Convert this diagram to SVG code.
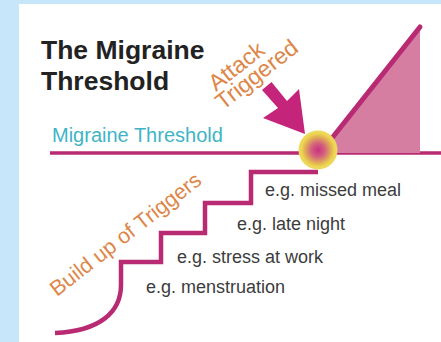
<svg xmlns="http://www.w3.org/2000/svg" width="441" height="342" viewBox="0 0 441 342">
<defs>
<radialGradient id="glow" cx="0.5" cy="0.5" r="0.5">
<stop offset="0" stop-color="#c8327f"/>
<stop offset="0.35" stop-color="#d4607f"/>
<stop offset="0.7" stop-color="#e3b552"/>
<stop offset="0.85" stop-color="#ecd650"/>
<stop offset="1" stop-color="#eedb62"/>
</radialGradient>
<style>
.title{font-family:"Liberation Sans",Arial,sans-serif;font-weight:bold;font-size:26.5px;fill:#222}
.thr{font-family:"Liberation Sans",Arial,sans-serif;font-size:20px;fill:#40b4c6}
.eg{font-family:"Liberation Sans",Arial,sans-serif;font-size:18px;fill:#3c3c3c}
.orange{font-family:"Liberation Sans",Arial,sans-serif;fill:#dd8648}
.mag{fill:none;stroke:#b82a72;stroke-linejoin:miter}
</style>
</defs>
<rect x="0" y="0" width="441" height="342" fill="#c8e6fa"/>
<rect x="19" y="4" width="422" height="338" fill="#ffffff"/>

<g id="title">
<text class="title" x="41" y="59">The Migraine</text>
<text class="title" x="41" y="90">Threshold</text>
</g>

<g id="connectors">
<line class="mag" x1="50" y1="153" x2="441" y2="153" stroke-width="3.5"/>
<path class="mag" stroke-width="4.5" d="M55,333 C100,331 121,312 121,285 L121,262 L161,262 L161,233 L205,233 L205,203 L251,203 L251,172 L318,172"/>
</g>

<g id="threshold-label">
<text class="thr" x="52" y="142">Migraine Threshold</text>
</g>

<g id="attack-area">
<polygon points="321,153 420,26 420,153" fill="#d67ea2"/>
<line x1="321" y1="152" x2="420" y2="27" stroke="#b82a72" stroke-width="5" stroke-linecap="round"/>
</g>

<g id="attack-arrow">
<polygon points="262,90 271.5,82 287,101 299,89 305,134 263,118 278,108" fill="#c4257a"/>
</g>

<g id="attack-point">
<circle cx="318" cy="150" r="19.5" fill="url(#glow)"/>
</g>

<g id="attack-label">
<g transform="translate(216,92) rotate(-38)" font-size="23">
<text class="orange" x="0" y="0">Attack</text>
<text class="orange" x="-6" y="19">Triggered</text>
</g>
</g>

<g id="build-label">
<text class="orange" font-size="21.5" transform="translate(57,297) rotate(-38)">Build up of Triggers</text>
</g>

<g id="steps">
<text class="eg" x="265" y="196">e.g. missed meal</text>
<text class="eg" x="237" y="230">e.g. late night</text>
<text class="eg" x="177" y="263">e.g. stress at work</text>
<text class="eg" x="146" y="293">e.g. menstruation</text>
</g>
</svg>
